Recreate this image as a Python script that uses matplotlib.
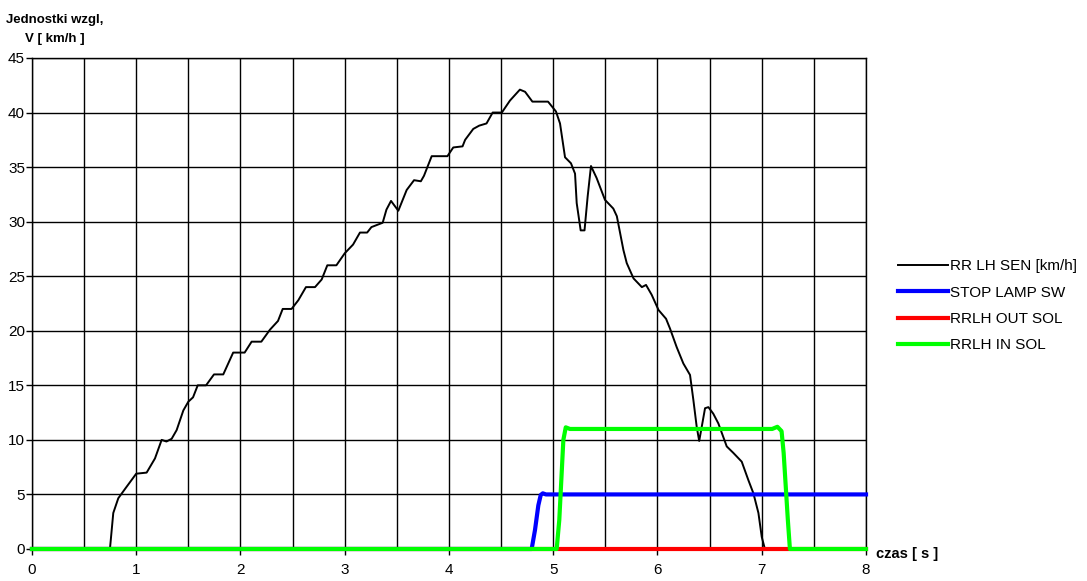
import matplotlib
matplotlib.use("Agg")
import matplotlib.pyplot as plt
from matplotlib.ticker import MultipleLocator

plt.rcParams['font.family'] = ['Liberation Sans', 'DejaVu Sans']

# Wheel speed sensor, rear left [km/h]
t_speed = [0, 0.748, 0.78, 0.828, 0.9, 1.0, 1.10, 1.18, 1.244, 1.29,
           1.34, 1.388, 1.452, 1.50, 1.545, 1.59, 1.67, 1.746, 1.835, 1.93,
           2.04, 2.107, 2.2, 2.283, 2.36, 2.405, 2.49, 2.555, 2.628, 2.715,
           2.779, 2.833, 2.92, 3.0, 3.08, 3.146, 3.215, 3.256, 3.364, 3.40,
           3.444, 3.514, 3.594, 3.665, 3.73, 3.76, 3.834, 3.90, 3.985, 4.041,
           4.13, 4.155, 4.233, 4.29, 4.36, 4.419, 4.507, 4.585, 4.68, 4.73,
           4.80, 4.95, 5.026, 5.065, 5.113, 5.17, 5.209, 5.225, 5.263, 5.30,
           5.33, 5.362, 5.416, 5.496, 5.576, 5.61, 5.673, 5.705, 5.77, 5.85,
           5.89, 5.944, 6.01, 6.082, 6.12, 6.184, 6.248, 6.312, 6.344, 6.376,
           6.40, 6.43, 6.456, 6.488, 6.535, 6.584, 6.664, 6.728, 6.808, 6.872,
           6.92, 6.968, 7.0, 7.03, 8.0]
v_speed = [0, 0, 3.3, 4.65, 5.6, 6.9, 7.0, 8.3, 10.0, 9.85,
           10.1, 10.9, 12.7, 13.5, 13.9, 15.0, 15.0, 16.0, 16.0, 18.0,
           18.0, 19.0, 19.0, 20.1, 20.9, 22.0, 22.0, 22.8, 24.0, 24.0,
           24.7, 26.0, 26.0, 27.1, 27.9, 29.0, 29.0, 29.5, 29.9, 31.1,
           31.9, 31.0, 32.9, 33.8, 33.7, 34.2, 36.0, 36.0, 36.0, 36.8,
           36.9, 37.5, 38.5, 38.8, 39.0, 40.0, 40.0, 41.1, 42.1, 41.9,
           41.0, 41.0, 40.1, 39.0, 35.9, 35.35, 34.4, 31.7, 29.2, 29.2,
           32.3, 35.1, 34.0, 32.0, 31.2, 30.5, 27.4, 26.2, 24.8, 24.0,
           24.2, 23.3, 21.9, 21.1, 20.2, 18.5, 17.0, 15.95, 13.66, 11.2,
           9.9, 11.5, 12.9, 13.0, 12.4, 11.5, 9.4, 8.8, 8.0, 6.3,
           5.1, 3.3, 1.1, 0, 0]

# Stop lamp switch
t_stop = [0, 4.793, 4.825, 4.857, 4.88, 4.90, 4.93, 8.0]
v_stop = [0, 0, 1.74, 4.0, 4.95, 5.1, 5.0, 5.0]

# Outlet solenoid
t_out = [0, 8.0]
v_out = [0, 0]

# Inlet solenoid
t_in = [0, 5.033, 5.058, 5.097, 5.12, 5.16, 7.10, 7.15, 7.19, 7.21, 7.25, 7.27, 8.0]
v_in = [0, 0, 2.66, 10.0, 11.15, 11.0, 11.0, 11.2, 10.8, 8.8, 2.7, 0, 0]

labels = ["RR LH SEN [km/h]", "STOP LAMP SW", "RRLH OUT SOL", "RRLH IN SOL"]
x_ticks = [0, 1, 2, 3, 4, 5, 6, 7, 8]
y_ticks = [0, 5, 10, 15, 20, 25, 30, 35, 40, 45]

fig = plt.figure(figsize=(10.87, 5.81), dpi=100)
ax = fig.add_axes([0.0294, 0.0551, 0.7673, 0.8451])

ax.plot(t_speed, v_speed, color="black", lw=1.4, label=labels[0], zorder=3,
        clip_on=False, solid_joinstyle="round")
ax.plot(t_stop, v_stop, color="#0000ff", lw=3, label=labels[1], zorder=4, clip_on=False)
ax.plot(t_out, v_out, color="#ff0000", lw=3, label=labels[2], zorder=5, clip_on=False)
ax.plot(t_in, v_in, color="#00ff00", lw=3, label=labels[3], zorder=6, clip_on=False)

ax.set_xlim(0, 8)
ax.set_ylim(0, 45)
ax.set_xticks(x_ticks)
ax.set_yticks(y_ticks)
ax.xaxis.set_minor_locator(MultipleLocator(0.5))
ax.grid(True, which="both", axis="x", color="black", lw=1.0)
ax.grid(True, which="major", axis="y", color="black", lw=1.0)
ax.tick_params(axis="both", which="major", length=4, width=1, color="black",
               labelsize=11)
ax.tick_params(axis="x", which="major", pad=6)
ax.tick_params(axis="y", which="major", pad=1)
ax.tick_params(axis="x", which="minor", length=0)
for s in ax.spines.values():
    s.set_color("black")
    s.set_linewidth(1.0)

fig.text(0.050, 0.9656, "Jednostki wzgl,", fontsize=9.5, fontweight="bold",
         ha="center", va="center")
fig.text(0.050, 0.933, "V [ km/h ]", fontsize=9.5, fontweight="bold",
         ha="center", va="center")
fig.text(0.806, 0.047, "czas [ s ]", fontsize=10.5, fontweight="bold",
         ha="left", va="center")

fig.legend(loc="upper left", bbox_to_anchor=(0.826, 0.554), frameon=False,
           fontsize=11, handlelength=3.27, handletextpad=0.13, labelspacing=0.81,
           borderaxespad=0, borderpad=0)

fig.savefig("out.png", dpi=100)
